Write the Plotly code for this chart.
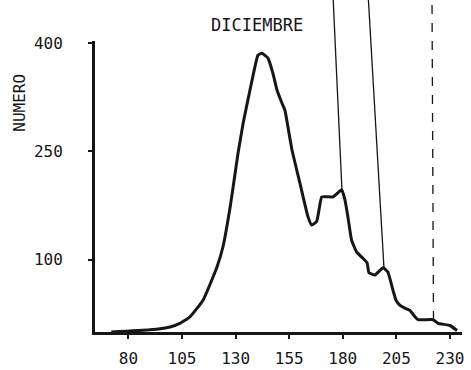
import plotly.graph_objects as go

# Length classes (x) and counts (y) for the December distribution
longitud = [72, 90, 99.4, 104, 108.7, 114.8, 121.3, 124.1, 127.4, 128.8, 131.1, 133.5,
            136.7, 139, 140.4, 142.3, 145.1, 147.4, 149.3, 151.6, 153, 154.4, 156.3,
            160, 163.8, 165.5, 167.8, 168.9, 170.2, 175.4, 178.2, 179.5, 181, 182.4,
            184.1, 186.4, 189.4, 191.3, 192.2, 195, 198.8, 201, 203.4, 204.8, 206.7,
            209, 211.3, 213.7, 215.1, 222.1, 224.4, 230, 233.3]
numero = [0, 3, 7, 12, 21, 44, 90, 118, 172, 200, 247, 289,
          335, 367, 383, 386, 379, 358, 335, 317, 307, 284, 252,
          206, 159, 148, 153, 169, 187, 187, 194, 197, 183, 159,
          127, 111, 102, 96, 82, 79, 89, 83, 58, 44, 37,
          33, 30, 21, 17, 17, 12, 9, 2]

x_ticks = [80, 105, 130, 155, 180, 205, 230]
y_ticks = [100, 250, 400]

# Leader lines running up from the curve (bottom x, top x, count at bottom, dash)
leader_x_bottom = [179.6, 199.2, 222.3]
leader_x_top = [175.4, 191.8, 221.6]
leader_y_bottom = [197, 88.6, 16.6]
leader_dash = ["solid", "solid", "dash"]

Y_RANGE = [0, 402.8]
X_RANGE = [64.4, 235.6]
INK = "#161616"
FONT = "DejaVu Sans Mono"

fig = go.Figure()
fig.add_trace(go.Scatter(
    x=longitud, y=numero, mode="lines",
    line=dict(color=INK, width=3, shape="spline", smoothing=0.4),
    showlegend=False, hoverinfo="skip",
))


def to_paper_y(v):
    return (v - Y_RANGE[0]) / (Y_RANGE[1] - Y_RANGE[0])


shapes = []
for xb, xt, yb, d in zip(leader_x_bottom, leader_x_top, leader_y_bottom, leader_dash):
    shapes.append(dict(
        type="line", xref="x", yref="paper",
        x0=xb, y0=to_paper_y(yb), x1=xt, y1=1.16,
        line=dict(color=INK, width=1.3, dash=d),
    ))

fig.update_layout(
    width=471, height=370,
    margin=dict(l=95, r=9, t=41, b=38, autoexpand=False),
    paper_bgcolor="white", plot_bgcolor="white",
    font=dict(family=FONT, size=16, color=INK),
    shapes=shapes,
    xaxis=dict(
        range=X_RANGE, tickvals=x_ticks, ticktext=[str(v) for v in x_ticks],
        showgrid=False, zeroline=False, showline=True, linecolor=INK, linewidth=3,
        ticks="outside", ticklen=4, tickwidth=2, tickcolor=INK, automargin=False,
        ticklabelstandoff=6, tickfont=dict(family=FONT, size=16, color=INK),
    ),
    yaxis=dict(
        range=Y_RANGE, tickvals=y_ticks, ticktext=[str(v) for v in y_ticks],
        showgrid=False, zeroline=False, showline=True, linecolor=INK, linewidth=3,
        ticks="outside", ticklen=4, tickwidth=2, tickcolor=INK, automargin=False,
        ticklabelstandoff=22, tickfont=dict(family=FONT, size=16, color=INK),
    ),
    annotations=[
        dict(text="DICIEMBRE", xref="paper", yref="paper",
             x=(257 - 95) / 367, y=1.055, xanchor="center", yanchor="middle",
             showarrow=False, font=dict(family=FONT, size=17, color=INK)),
        dict(text="NUMERO", xref="paper", yref="paper",
             x=-0.208, y=(332 - 103) / 291, xanchor="center", yanchor="middle",
             textangle=-90, showarrow=False,
             font=dict(family=FONT, size=16, color=INK)),
    ],
)

fig.write_html("out.html")
